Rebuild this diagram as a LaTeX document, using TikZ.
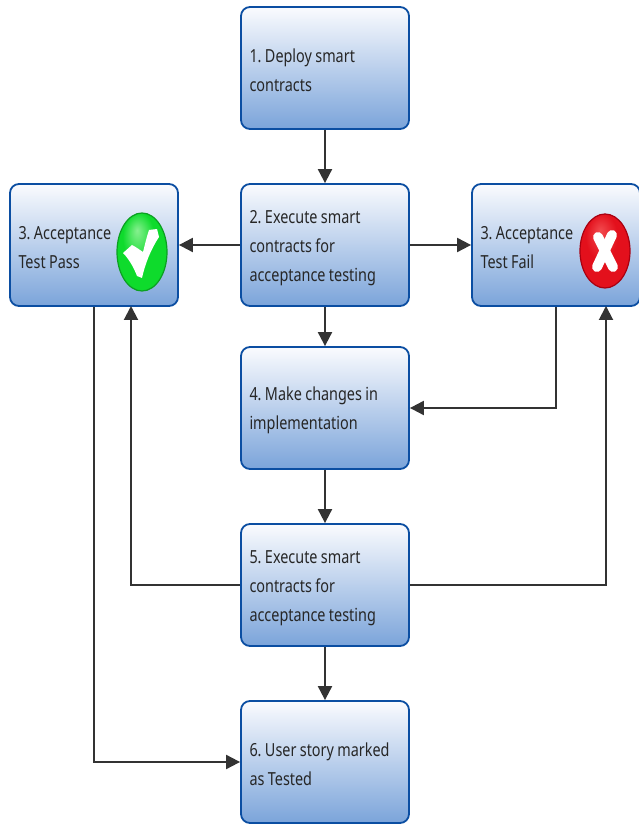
\documentclass[tikz,border=0pt]{standalone}
\usepackage{fontspec}
\setmainfont[FakeStretch=0.8]{Noto Sans}
\usepackage{xcolor}
\usetikzlibrary{shapes.geometric,arrows.meta}
\definecolor{boxline}{HTML}{0B4EA2}
\definecolor{boxtop}{HTML}{FAFBFE}
\definecolor{boxbottom}{HTML}{7BA4DA}
\definecolor{arrowline}{HTML}{333333}
\definecolor{passlight}{HTML}{86F08F}
\definecolor{passmid}{HTML}{0EDB2C}
\definecolor{passedge}{HTML}{0C9F22}
\definecolor{faillight}{HTML}{F24A4E}
\definecolor{failmid}{HTML}{E3101C}
\definecolor{failedge}{HTML}{A80010}
\pgfdeclareradialshading{passball}{\pgfpoint{-5bp}{14bp}}{color(0bp)=(passlight);color(16bp)=(passmid);color(50bp)=(passmid)}
\pgfdeclareradialshading{failball}{\pgfpoint{-5bp}{14bp}}{color(0bp)=(faillight);color(16bp)=(failmid);color(50bp)=(failmid)}
\tikzstyle{process} = [rectangle,rounded corners=9pt,minimum width=168pt,minimum height=122pt,text width=151pt,inner sep=0pt,align=left,draw=boxline,line width=1.8pt,top color=boxtop,bottom color=boxbottom,text=black!85,font=\fontsize{18pt}{29pt}\selectfont,execute at begin node={\frenchspacing\spaceskip=3.4pt\relax\rule{0pt}{19pt}}]
\tikzstyle{passicon} = [ellipse,minimum width=50pt,minimum height=78pt,inner sep=0pt,draw=passedge,line width=1.2pt,shading=passball]
\tikzstyle{failicon} = [ellipse,minimum width=50pt,minimum height=74pt,inner sep=0pt,draw=failedge,line width=1.2pt,shading=failball]
\tikzstyle{arrow} = [line width=2pt,draw=arrowline,-{Stealth[length=14pt,width=14pt,inset=0pt]}]

\begin{document}
\begin{tikzpicture}[x=1pt,y=1pt,node distance=177pt]
\useasboundingbox (0,0) rectangle (638,825);
\node (deploy) [process] at (325,757) {1. Deploy smart\\contracts};
\node (execute1) [process,below of=deploy] {2. Execute smart\\contracts for\\acceptance testing};
\node (pass) [process,left of=execute1,xshift=-54pt] {3. Acceptance\\Test Pass};
\node (fail) [process,right of=execute1,xshift=54pt] {3. Acceptance\\Test Fail};
\node (change) [process,below of=execute1,yshift=14pt] {4. Make changes in\\implementation};
\node (execute2) [process,below of=change] {5. Execute smart\\contracts for\\acceptance testing};
\node (story) [process,below of=execute2] {6. User story marked\\as Tested};

% status icons
\node (passmark) [passicon] at (142,573) {};
\node (failmark) [failicon] at (605,574) {};
\fill [white] (123,572) -- (132,580) .. controls (136,578) and (140,575) .. (143,573) .. controls (145,581) and (147,589) .. (149,595) -- (157,596) -- (159,588) .. controls (151,576) and (145,561) .. (142,547) -- (137,549) .. controls (134,557) and (129,566) .. (123,572) -- cycle;
\draw [white,line width=10pt,line cap=round] (598,588) -- (613,558);
\draw [white,line width=10pt,line cap=round] (612,590) -- (597,558);

\coordinate (passin) at (131,519);
\coordinate (failin) at (606,519);
\draw [arrow] (deploy) -- (execute1);
\draw [arrow] (execute1) -- (pass);
\draw [arrow] (execute1) -- (fail);
\draw [arrow] (execute1) -- (change);
\draw [arrow] (fail.south) |- (change.east);
\draw [arrow] (change) -- (execute2);
\draw [arrow] (execute2.west) -| (passin);
\draw [arrow] (execute2.east) -| (failin);
\draw [arrow] (execute2) -- (story);
\draw [arrow] (pass.south) |- (story.west);
\end{tikzpicture}
\end{document}
